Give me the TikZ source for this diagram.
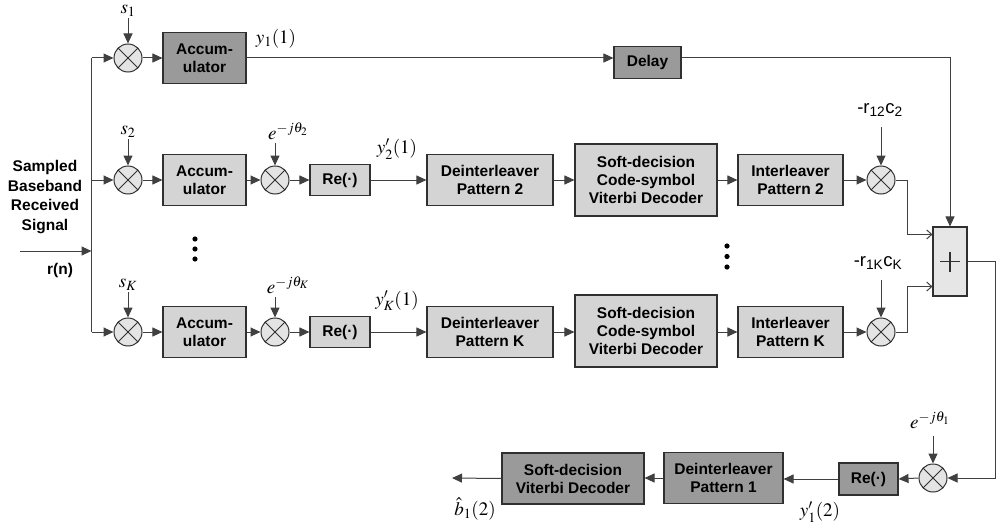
\documentclass[tikz,border=0pt]{standalone}
\usepackage{mathptmx}
\usepackage[no-math]{fontspec}
\setmainfont{Liberation Sans}
\usetikzlibrary{arrows.meta,calc}
\definecolor{darkf}{HTML}{9A9A9A}
\definecolor{lightf}{HTML}{D4D4D4}
\definecolor{mixf}{HTML}{E4E4E4}
\definecolor{sumf}{HTML}{E6E6E6}
\definecolor{bordc}{HTML}{303030}
\definecolor{linec}{HTML}{404040}
\begin{document}
\begin{tikzpicture}[x=1pt,y=-1pt,line width=1pt,
 every node/.style={font=\fontsize{15.5}{18}\selectfont\bfseries},
 box/.style={draw=bordc,line width=1.1pt,fill=lightf,align=center,inner sep=0pt},
 dbox/.style={box,fill=darkf},
 mixer/.style={circle,draw=bordc,line width=1pt,fill=mixf,minimum size=28pt,inner sep=0pt,
   path picture={\draw[line width=0.9pt,bordc] (path picture bounding box.north west) -- (path picture bounding box.south east)
     (path picture bounding box.north east) -- (path picture bounding box.south west);}},
 arr/.style={draw=linec,-{Triangle[length=10pt,width=9pt]}},
 oarr/.style={draw=linec,-{Straight Barb[length=5pt,width=9pt]}},
 ln/.style={draw=linec},
 lbl/.style={font=\fontsize{19}{22}\selectfont,inner sep=1pt},
 slbl/.style={font=\fontsize{18.5}{22}\selectfont,inner sep=2pt},
]
\useasboundingbox (0,0) rectangle (999,527);

% row 1
\node[mixer] (m1) at (128,58) {};
\node[dbox,minimum width=83pt,minimum height=51pt] (acc1) at (204.5,58) {Accum-\\ulator};
\node[dbox,minimum width=67pt,minimum height=32pt] (delay) at (647.5,62.5) {Delay};

% row 2
\node[mixer] (m21) at (128,180) {};
\node[box,minimum width=83pt,minimum height=51pt] (acc2) at (204.5,180) {Accum-\\ulator};
\node[mixer] (m22) at (275,180) {};
\node[box,minimum width=60pt,minimum height=31pt] (re2) at (340,180) {Re(·)};
\node[box,minimum width=126pt,minimum height=51pt] (de2) at (490,180) {Deinterleaver\\Pattern 2};
\node[box,minimum width=142pt,minimum height=72pt] (sd2) at (646,180) {Soft-decision\\Code-symbol\\Viterbi Decoder};
\node[box,minimum width=105pt,minimum height=51pt] (il2) at (790.5,180) {Interleaver\\Pattern 2};
\node[mixer] (m23) at (881,180) {};

% row K
\node[mixer] (mK1) at (128,332) {};
\node[box,minimum width=83pt,minimum height=51pt] (accK) at (204.5,332) {Accum-\\ulator};
\node[mixer] (mK2) at (275,332) {};
\node[box,minimum width=60pt,minimum height=31pt] (reK) at (340,332) {Re(·)};
\node[box,minimum width=126pt,minimum height=51pt] (deK) at (490,332) {Deinterleaver\\Pattern K};
\node[box,minimum width=142pt,minimum height=72pt] (sdK) at (646,331) {Soft-decision\\Code-symbol\\Viterbi Decoder};
\node[box,minimum width=105pt,minimum height=51pt] (ilK) at (790.5,332) {Interleaver\\Pattern K};
\node[mixer] (mK3) at (881,332) {};

% sum
\node[box,fill=sumf,minimum width=34pt,minimum height=69pt] (sum) at (950,261.5) {};
\draw[line width=1.1pt,bordc] ($(sum.center)+(-10,0)$) -- ($(sum.center)+(10,0)$)
  ($(sum.center)+(0,-10)$) -- ($(sum.center)+(0,10)$);

% bottom row
\node[mixer] (mb) at (933,478) {};
\node[dbox,minimum width=59pt,minimum height=32pt] (reb) at (868.5,479) {Re(·)};
\node[dbox,minimum width=119pt,minimum height=51pt] (de1) at (723.5,478) {Deinterleaver\\Pattern 1};
\node[dbox,minimum width=142pt,minimum height=51pt] (sdv) at (573,478.5) {Soft-decision\\Viterbi Decoder};
\coordinate (out) at (452,478);

% labels
\node[lbl] (ls1) at (128,11) {$s_1$};
\node[lbl] (ly1) at (276,39) {$y_1(1)$};
\node[lbl] (ls2) at (128,132) {$s_2$};
\node[lbl] (le2) at (288,131) {$e^{-j\theta_2}$};
\node[lbl] (lsK) at (128,285) {$s_K$};
\node[lbl] (leK) at (288,285) {$e^{-j\theta_K}$};
\node[lbl] (ly2) at (397,149) {$y'_2(1)$};
\node[lbl] (lyK) at (397,301) {$y'_K(1)$};
\node[slbl] (lr2) at (880,110) {-r\textsubscript{12}c\textsubscript{2}};
\node[slbl] (lrK) at (878,263) {-r\textsubscript{1K}c\textsubscript{K}};
\node[lbl] (le1) at (930,420) {$e^{-j\theta_1}$};
\node[lbl] (ly12) at (820,512) {$y'_1(2)$};
\node[lbl] (lb) at (475,509) {$\hat{b}_1(2)$};
\node (lrn) at (60,270) {r(n)};
\node[align=center,font=\fontsize{15.5}{19.7}\selectfont\bfseries] (lsig) at (45,197) {Sampled\\Baseband\\Received\\Signal};

% dots
\foreach \yy in {239,249,259} \fill (195,\yy) circle (2.6pt);
\foreach \yy in {246,256.5,267} \fill (727,\yy) circle (2.6pt);

% bus and input
\path (m1.west) ++(-22,0) coordinate (bt);
\path (m21.west) ++(-22,0) coordinate (bm);
\path (mK1.west) ++(-22,0) coordinate (bb);
\coordinate (inl) at (20,251);
\draw[ln] (bt) -- (bb);
\draw[arr] (inl) -- (inl -| bt);
\draw[arr] (bt) -- (m1.west);
\draw[arr] (bm) -- (m21.west);
\draw[arr] (bb) -- (mK1.west);

% row 1 connections
\draw[arr] (m1.north |- ls1.south) -- (m1.north);
\draw[arr] (m1.east) -- (acc1.west);
\draw[arr] (acc1.east) -- (delay.west |- acc1.east);
\draw[arr] (delay.east |- acc1.east) -| (sum.north);

% row 2 connections
\draw[arr] (m21.north |- ls2.south) -- (m21.north);
\draw[arr] (m21.east) -- (acc2.west);
\draw[arr] (acc2.east) -- (m22.west);
\draw[arr] (m22.north |- le2.south) ++(0,2) -- (m22.north);
\draw[arr] (m22.east) -- (re2.west);
\draw[arr] (re2.east) -- (de2.west);
\draw[arr] (de2.east) -- (sd2.west);
\draw[arr] (sd2.east) -- (il2.west);
\draw[arr] (il2.east) -- (m23.west);
\draw[arr] (m23.north |- lr2.south) ++(0,8) -- (m23.north);

% row K connections
\draw[arr] (mK1.north |- lsK.south) -- (mK1.north);
\draw[arr] (mK1.east) -- (accK.west);
\draw[arr] (accK.east) -- (mK2.west);
\draw[arr] (mK2.north |- leK.south) ++(0,2) -- (mK2.north);
\draw[arr] (mK2.east) -- (reK.west);
\draw[arr] (reK.east) -- (deK.west);
\draw[arr] (deK.east) -- (sdK.west |- deK.east);
\draw[arr] (sdK.east |- ilK.west) -- (ilK.west);
\draw[arr] (ilK.east) -- (mK3.west);
\draw[arr] (mK3.north |- lrK.south) ++(0,8) -- (mK3.north);

% into sum
\coordinate (s2in) at ($(sum.north west)+(0,8)$);
\coordinate (sKin) at ($(sum.south west)+(0,-10)$);
\draw[oarr] (m23.east) -- ++(12,0) |- (s2in);
\draw[oarr] (mK3.east) -- ++(12,0) |- (sKin);

% sum output and bottom row
\draw[arr] (sum.east) -- ++(28,0) |- (mb.east);
\draw[arr] (mb.north |- le1.south) ++(0,6) -- (mb.north);
\draw[arr] (mb.west) -- (reb.west -| reb.east);
\draw[arr] (reb.west) -- (de1.east |- reb.west);
\draw[arr] (de1.west) -- (sdv.east |- de1.west);
\draw[arr] (sdv.west) -- (out);
\end{tikzpicture}
\end{document}
